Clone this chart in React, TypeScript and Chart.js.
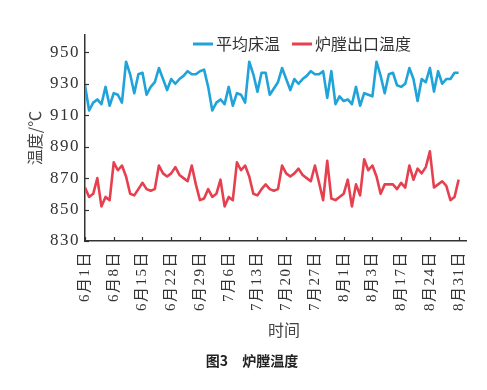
import React, { useEffect, useRef } from 'react';
import { Chart, registerables } from 'chart.js';

Chart.register(...registerables);

// ---- data ----
const xTickLabels = ['6月1日', '6月8日', '6月15日', '6月22日', '6月29日', '7月6日', '7月13日', '7月20日', '7月27日', '8月1日', '8月3日', '8月17日', '8月24日', '8月31日'];
const xTickStep = 7;
const yTickValues = [830, 850, 870, 890, 910, 930, 950];
const seriesNames = ['平均床温', '炉膛出口温度'];
const seriesColors = ['#1fa3d9', '#e6404f'];

const bedTemp = [
  929, 913, 918, 920, 917, 928, 916, 924, 923, 918, 944, 936, 924, 936, 937, 923, 928, 931, 940, 933,
  926, 933, 930, 933, 935, 938, 936, 936, 938, 939,
  928, 913, 918, 920, 917, 928, 916, 924, 923, 918, 944, 936, 925, 937, 937, 923, 927, 931, 940, 933,
  926, 933, 930, 933, 935, 938, 936, 936, 938, 921, 938,
  917, 922, 919, 920, 917, 928, 916, 924, 923, 922, 944, 935, 924, 936, 937, 929, 928, 930, 940, 933,
  919, 933, 931, 940, 925, 938, 930, 933, 933, 937, 937,
];

const outletTemp = [
  864, 858, 860, 870, 852, 858, 856, 880, 875, 878, 871, 860, 859, 863, 867, 863, 862, 863, 878, 873,
  871, 873, 877, 872, 870, 868, 878, 866, 856, 857,
  863, 858, 860, 869, 852, 858, 856, 880, 875, 878, 871, 860, 859, 863, 866, 863, 862, 863, 878, 873,
  871, 873, 876, 872, 870, 868, 878, 867, 856, 881, 857,
  856, 858, 860, 869, 852, 866, 859, 882, 875, 878, 871, 860, 866, 866, 866, 863, 867, 864, 878, 869,
  876, 873, 877, 887, 864, 866, 868, 865, 856, 858, 869,
];

const yTitle = '温度/℃';
const xTitle = '时间';
const caption = '图3\u3000炉膛温度';

const serif = '"Liberation Serif", "Noto Sans CJK SC", serif';
const cjk = '"Noto Sans CJK SC", sans-serif';

const decorPlugin = {
  id: 'decor',
  beforeDraw(chart: any) {
    chart.ctx.letterSpacing = '1.5px';
  },
  afterDraw(chart: any) {
    const { ctx, chartArea, scales } = chart;
    const xs = scales.x;
    const ys = scales.y;
    ctx.save();
    ctx.letterSpacing = '0px';
    // inward tick marks
    ctx.strokeStyle = '#333';
    ctx.lineWidth = 1.2;
    xs.ticks.forEach((t: any) => {
      const px = Math.round(xs.getPixelForValue(t.value)) + 0.5;
      ctx.beginPath();
      ctx.moveTo(px, chartArea.bottom);
      ctx.lineTo(px, chartArea.bottom - 4);
      ctx.stroke();
    });
    ys.ticks.forEach((t: any) => {
      const py = Math.round(ys.getPixelForValue(t.value)) + 0.5;
      ctx.beginPath();
      ctx.moveTo(chartArea.left, py);
      ctx.lineTo(chartArea.left + 4, py);
      ctx.stroke();
    });

    // y title
    ctx.fillStyle = '#444';
    ctx.font = '16px ' + cjk;
    ctx.textAlign = 'center';
    ctx.textBaseline = 'middle';
    ctx.save();
    ctx.translate(35, (chartArea.top + chartArea.bottom) / 2);
    ctx.rotate(-Math.PI / 2);
    ctx.fillText(yTitle, 0, 0);
    ctx.restore();

    // x title
    ctx.font = '16px ' + cjk;
    ctx.fillText(xTitle, 284, 330);

    // caption
    ctx.fillStyle = '#222';
    ctx.font = 'bold 14px ' + cjk;
    ctx.fillText(caption, 252, 361);

    // legend
    ctx.font = '16px ' + cjk;
    ctx.textAlign = 'left';
    let lx = 193;
    const ly = 44;
    chart.data.datasets.forEach((ds: any) => {
      ctx.strokeStyle = ds.borderColor;
      ctx.lineWidth = 3;
      ctx.beginPath();
      ctx.moveTo(lx, ly);
      ctx.lineTo(lx + 20, ly);
      ctx.stroke();
      ctx.fillStyle = '#333';
      ctx.fillText(ds.label, lx + 23, ly);
      lx += 23 + ctx.measureText(ds.label).width + 12;
    });
    ctx.restore();
  },
};

export default function App() {
  const ref = useRef<HTMLCanvasElement | null>(null);
  useEffect(() => {
    document.body.style.margin = '0';
    const canvas = ref.current;
    if (!canvas) return;
    const toPts = (arr: number[]) => arr.map((v, i) => ({ x: i, y: v }));
    const chart = new Chart(canvas, {
      type: 'line',
      data: {
        datasets: [
          {
            label: seriesNames[0],
            data: toPts(bedTemp),
            borderColor: seriesColors[0],
            backgroundColor: seriesColors[0],
            borderWidth: 2.6,
            pointRadius: 0,
            tension: 0,
            borderJoinStyle: 'round',
          },
          {
            label: seriesNames[1],
            data: toPts(outletTemp),
            borderColor: seriesColors[1],
            backgroundColor: seriesColors[1],
            borderWidth: 2.6,
            pointRadius: 0,
            tension: 0,
            borderJoinStyle: 'round',
          },
        ],
      },
      options: {
        responsive: false,
        animation: false,
        devicePixelRatio: 1,
        layout: { padding: { top: 35, right: 17, left: 0, bottom: 0 } },
        plugins: {
          legend: { display: false },
          tooltip: { enabled: false },
          title: { display: false },
        },
        scales: {
          x: {
            type: 'linear',
            min: 0,
            max: 93,
            grid: { display: false, drawTicks: false, tickLength: 0 },
            border: { display: true, color: '#333', width: 1.5 },
            afterBuildTicks: (scale: any) => {
              scale.ticks = xTickLabels.map((_, k) => ({ value: k * xTickStep }));
            },
            afterFit: (scale: any) => {
              scale.height = 149;
            },
            ticks: {
              autoSkip: false,
              minRotation: 90,
              maxRotation: 90,
              padding: 10,
              color: '#333',
              font: { family: serif, size: 15 },
              callback: (v: any) => xTickLabels[Math.round(Number(v) / xTickStep)] ?? '',
            },
          },
          y: {
            type: 'linear',
            min: 830,
            max: 961,
            grid: { display: false, drawTicks: false, tickLength: 0 },
            border: { display: true, color: '#333', width: 1.5 },
            afterBuildTicks: (scale: any) => {
              scale.ticks = yTickValues.map((v) => ({ value: v }));
            },
            afterFit: (scale: any) => {
              scale.width = 85;
            },
            ticks: {
              padding: 5,
              color: '#333',
              font: { family: serif, size: 17 },
            },
          },
        },
      },
      plugins: [decorPlugin],
    } as any);
    return () => chart.destroy();
  }, []);
  return (
    <div style={{ width: 487, height: 390, position: 'relative' }}>
      <canvas ref={ref} width={487} height={390} style={{ display: 'block' }} />
    </div>
  );
}
